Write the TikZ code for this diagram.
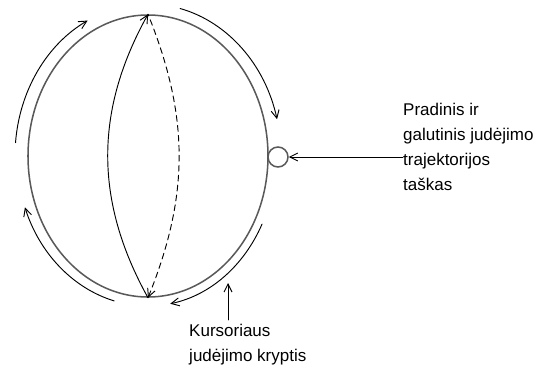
\documentclass[tikz,border=0pt]{standalone}
\usepackage{fontspec}
\setmainfont{Liberation Sans}
\usetikzlibrary{shapes.geometric,arrows.meta}

\begin{document}
\begin{tikzpicture}[x=0.3mm,y=0.3mm,line cap=round]
	\tikzstyle{rim}=[draw=black!65,line width=1.3pt];
	\tikzstyle{move}=[draw=black,line width=0.8pt,-{Straight Barb[length=2.4mm,width=2.4mm]}];
	\tikzstyle{lbl}=[align=left,inner sep=0pt,font=\fontsize{14.5}{21.5}\selectfont];
	\useasboundingbox (0,0) rectangle (552,376);
	\node[rim,ellipse,minimum width=72mm,minimum height=84.6mm,inner sep=0pt] (orbit) at (148,220) {};
	\node[rim,circle,minimum size=6mm,inner sep=0pt] (start) at (278,219) {};
	% trajektorijos linijos viduje
	\draw[move,{Straight Barb[length=2.4mm,width=2.4mm]}-] (orbit.north) to[bend right=29] (orbit.south);
	\draw[move,dash pattern=on 5pt off 3.5pt,{Straight Barb[length=2.4mm,width=2.4mm]}-] (orbit.south) to[bend right=22] (orbit.north);
	% kryptis aplink
	\draw[move] ([shift={(175:133 and 152)}]orbit.center) arc[start angle=175,end angle=117,x radius=133,y radius=152];
	\draw[move] ([shift={(76:133 and 152)}]orbit.center) arc[start angle=76,end angle=14,x radius=133,y radius=152];
	\draw[move] ([shift={(-27:128 and 150)}]orbit.center) arc[start angle=-27,end angle=-80,x radius=128,y radius=150];
	\draw[move] ([shift={(-105:131 and 150)}]orbit.center) arc[start angle=-105,end angle=-160,x radius=131,y radius=150];
	% uzrasai
	\node[lbl,anchor=west] (pointlbl) at (403,229) {Pradinis ir\\galutinis judėjimo\\trajektorijos\\taškas};
	\node[lbl,anchor=north west] (dirlbl) at (189,52) {Kursoriaus\\judėjimo kryptis};
	\coordinate (dirtip) at (228,93);
	\draw[move] (pointlbl.west |- start) -- (start);
	\draw[move] (dirlbl.north west -| dirtip) ++(0,4) -- (dirtip);
\end{tikzpicture}
\end{document}
